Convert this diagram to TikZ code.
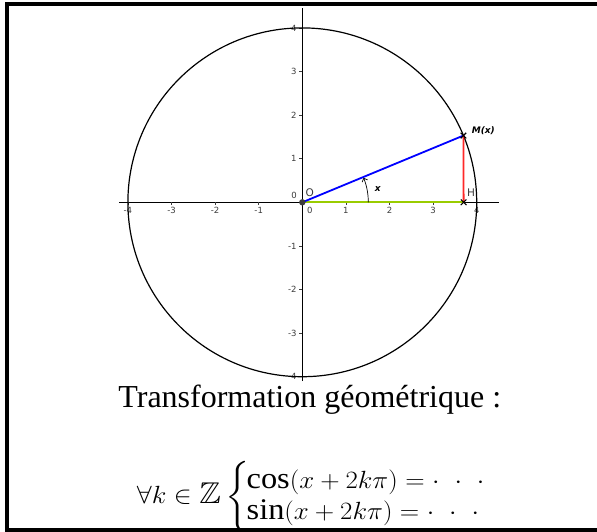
\documentclass[tikz,border=0pt]{standalone}
\usepackage{amsmath,amssymb}
\usepackage{graphicx}
\usepackage{fontspec}
\setmainfont{Liberation Serif}
\newfontfamily\ggb{DejaVu Sans}
\usetikzlibrary{arrows.meta}
\definecolor{ggbgreen}{RGB}{153,204,0}
\definecolor{ggbred}{RGB}{255,40,40}
\definecolor{ggbblue}{RGB}{0,0,255}
\definecolor{ggbgray}{RGB}{60,60,60}
\newcommand{\widedots}{\mathinner{\mathord{\cdotp}\mkern10mu\mathord{\cdotp}\mkern10mu\mathord{\cdotp}}}
\tikzset{
  frameline/.style={line width=4pt,black},
  axisline/.style={line width=1.1pt,black},
  tickmark/.style={line width=0.6pt,ggbgray},
  ticklab/.style={inner sep=0pt,text=ggbgray,font=\ggb\fontsize{8.5}{9}\selectfont},
  ptlab/.style={inner sep=0pt,text=ggbgray,font=\ggb\fontsize{10.5}{11}\selectfont},
  boldlab/.style={inner sep=0pt,text=black,font=\ggb\bfseries\itshape\fontsize{9}{10}\selectfont},
  seg/.style={line width=1.8pt,line cap=round},
  crossmark/.style={line width=1.1pt,black},
}
\begin{document}
\begin{tikzpicture}[x=1pt,y=-1pt]
\useasboundingbox (0,0) rectangle (597,531);
\fill[white] (0,0) rectangle (597,531);
\begin{scope}
  \clip (0,0) rectangle (597,531);
  \draw[frameline] (7,540) -- (7,4) -- (610,4);
  \draw[frameline] (5,530) -- (610,530);
\end{scope}
\begin{scope}[shift={(302.3pt,-202.3pt)},x=43.6pt,y=43.6pt]
  % axes
  \coordinate (xa) at (-4.2,0);
  \coordinate (xb) at (4.51,0);
  \coordinate (ya) at (0,-4.1);
  \coordinate (yb) at (0,4.46);
  \draw[axisline] (xa) -- (xb);
  \draw[axisline] (ya) -- (yb);
  % ticks and labels
  \foreach \i in {-4,-3,-2,-1,1,2,3,4}{
    \draw[tickmark] (\i,0) -- ++(0,-3pt);
    \node[ticklab] (xl\i) at (\i,-0.177) {\i};
    \draw[tickmark] (0,\i) -- ++(-3pt,0);
    \node[ticklab,anchor=east] (yl\i) at (-0.128,\i) {\i};
  }
  \node[ticklab] (x0) at (0.170,-0.177) {0};
  \node[ticklab] (y0) at (-0.190,0.151) {0};
  % circle
  \draw[line width=1.2pt] (0,0) circle[radius=4];
  % points
  \coordinate (O) at (0,0);
  \coordinate (M) at (22.5:4);
  \coordinate (H) at (3.7,0);
  \draw[seg,ggbgreen] (O) -- (H);
  \draw[seg,ggbblue] (O) -- (M);
  \draw[seg,ggbred] (M) -- (H);
  % angle arc
  \draw[line width=0.7pt,-{Straight Barb[length=3pt,width=6pt]}] (1.514,0) arc[start angle=0,end angle=21.8,radius=1.514];
  \node[boldlab] (xlab) at (1.729,0.298) {x};
  % markers
  \foreach \p in {M,H}{
    \draw[crossmark] (\p) ++(-2.8pt,-2.8pt) -- ++(5.6pt,5.6pt);
    \draw[crossmark] (\p) ++(-2.8pt,2.8pt) -- ++(5.6pt,-5.6pt);
  }
  \fill[ggbgray] (O) circle[radius=3.2pt];
  \node[ptlab] (Olab) at (0.170,0.220) {O};
  \node[ptlab] (Hlab) at (3.869,0.220) {H};
  \node[boldlab] (Mlab) at (4.151,1.642) {M(x)};
\end{scope}
\node[anchor=base,inner sep=0pt,font=\fontsize{32}{36}\selectfont] (title) at (309.8,407) {Transformation géométrique :};
\node[anchor=base west,inner sep=0pt,font=\fontsize{30}{31.6}\selectfont] (formula) at (136.7,503.7)
  {\scalebox{1.08}[1]{$\forall k\in\mathbb{Z}\left\{\mkern-2mu\begin{array}{@{}l@{}}\cos(x+2k\pi)=\widedots\\ \sin(x+2k\pi)=\widedots\end{array}\right.$}};
\end{tikzpicture}
\end{document}
